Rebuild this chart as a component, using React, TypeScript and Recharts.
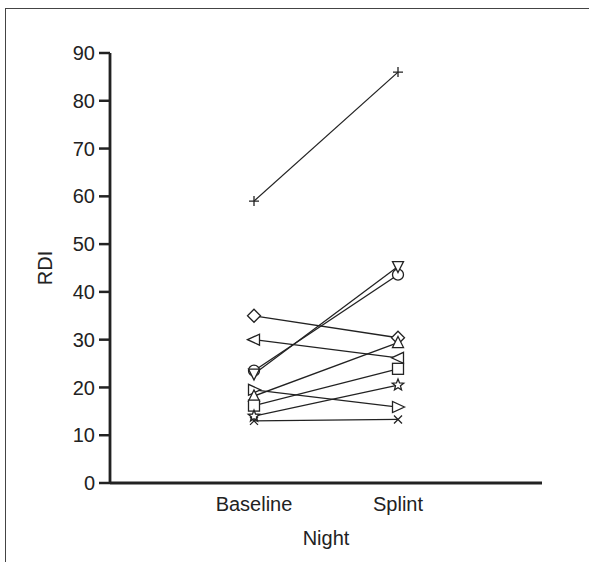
import React from "react";
import { LineChart, Line, XAxis, YAxis } from "recharts";

// nights on the x axis (numeric positions 1 and 2)
const nights = ["Baseline", "Splint"];
const yTicks = [0, 10, 20, 30, 40, 50, 60, 70, 80, 90];

// RDI per subject: [baseline, splint]
const plus = [59, 86];
const diamond = [35, 30.4];
const triLeft = [30, 26.2];
const circle = [23.5, 43.6];
const triDown = [22.8, 45.3];
const triRight = [19.5, 15.9];
const triUp = [18.2, 29.4];
const square = [16.2, 23.9];
const star = [14, 20.5];
const cross = [13, 13.3];

const subjects: [string, number[]][] = [
  ["plus", plus],
  ["diamond", diamond],
  ["triLeft", triLeft],
  ["circle", circle],
  ["triDown", triDown],
  ["triRight", triRight],
  ["triUp", triUp],
  ["square", square],
  ["star", star],
  ["cross", cross],
];

const data = nights.map((_, i) => {
  const row: Record<string, number> = { x: i + 1 };
  subjects.forEach(([k, v]) => (row[k] = v[i]));
  return row;
});

const INK = "#222";

function Marker({ shape, cx, cy }: { shape: string; cx: number; cy: number }) {
  const p = { fill: "#fff", stroke: INK, strokeWidth: 1.3 };
  const pts = (a: number[][]) => a.map(([x, y]) => `${cx + x},${cy + y}`).join(" ");
  switch (shape) {
    case "plus":
      return (
        <path d={`M${cx - 5},${cy}H${cx + 5}M${cx},${cy - 5}V${cy + 5}`} stroke={INK} strokeWidth={1.3} />
      );
    case "cross":
      return (
        <path
          d={`M${cx - 4},${cy - 4}L${cx + 4},${cy + 4}M${cx - 4},${cy + 4}L${cx + 4},${cy - 4}`}
          stroke={INK}
          strokeWidth={1.3}
        />
      );
    case "diamond":
      return <polygon points={pts([[0, -6.5], [6.5, 0], [0, 6.5], [-6.5, 0]])} {...p} />;
    case "circle":
      return <circle cx={cx} cy={cy} r={5.5} {...p} />;
    case "square":
      return <rect x={cx - 5.5} y={cy - 5.5} width={11} height={11} {...p} />;
    case "triLeft":
      return <polygon points={pts([[-6.5, 0], [5.5, -5.5], [5.5, 5.5]])} {...p} />;
    case "triRight":
      return <polygon points={pts([[6.5, 0], [-5.5, -5.5], [-5.5, 5.5]])} {...p} />;
    case "triUp":
      return <polygon points={pts([[0, -6], [5.5, 5], [-5.5, 5]])} {...p} />;
    case "triDown":
      return <polygon points={pts([[0, 6], [5.5, -5], [-5.5, -5]])} {...p} />;
    case "star": {
      const a: number[][] = [];
      for (let i = 0; i < 10; i++) {
        const r = i % 2 === 0 ? 6 : 2.6;
        const ang = -Math.PI / 2 + (i * Math.PI) / 5;
        a.push([r * Math.cos(ang), r * Math.sin(ang)]);
      }
      return <polygon points={pts(a)} {...p} />;
    }
    default:
      return null;
  }
}

const font = "Liberation Sans, Arial, Helvetica, sans-serif";
const tickStyle = { fill: INK, fontSize: 20, fontFamily: font };

export default function App() {
  return (
    <div style={{ position: "fixed", left: 0, top: 0, width: 589, height: 562, overflow: "hidden", background: "#fff" }}>
      <div
        style={{
          position: "absolute",
          left: 5,
          top: 8,
          width: 700,
          height: 700,
          borderLeft: "1.5px solid #444",
          borderTop: "1.5px solid #444",
        }}
      />
      <div style={{ position: "absolute", left: 0, top: 0 }}>
        <LineChart width={589} height={562} data={data} margin={{ top: 53, right: 47, bottom: 17, left: 0 }}>
          <XAxis
            dataKey="x"
            type="number"
            domain={[0, 3]}
            ticks={[1, 2]}
            tickFormatter={(v: number) => nights[v - 1]}
            height={62}
            tickSize={0}
            tickMargin={14}
            tickLine={false}
            axisLine={{ stroke: INK, strokeWidth: 2.8 }}
            tick={tickStyle}
            label={{ value: "Night", position: "insideBottom", offset: 0, fill: INK, fontSize: 20, fontFamily: font }}
          />
          <XAxis
            xAxisId="top"
            orientation="top"
            dataKey="x"
            type="number"
            domain={[0, 3]}
            height={0}
            tick={false}
            tickLine={false}
            axisLine={{ stroke: INK, strokeWidth: 2.8 }}
          />
          <YAxis
            domain={[0, 90]}
            ticks={yTicks}
            width={110}
            tickSize={11}
            tickMargin={4}
            tick={tickStyle}
            tickLine={{ stroke: INK, strokeWidth: 2.5 }}
            axisLine={{ stroke: INK, strokeWidth: 2.8 }}
            label={{
              value: "RDI",
              angle: -90,
              position: "insideLeft",
              offset: 45,
              fill: INK,
              fontSize: 20,
              fontFamily: font,
              style: { textAnchor: "middle" },
            }}
          />
          <YAxis
            yAxisId="right"
            orientation="right"
            domain={[0, 90]}
            width={0}
            tick={false}
            tickLine={false}
            axisLine={{ stroke: INK, strokeWidth: 2.8 }}
          />
          {subjects.map(([k]) => (
            <Line
              key={k}
              dataKey={k}
              stroke={INK}
              strokeWidth={1.3}
              isAnimationActive={false}
              dot={(props: any) => <Marker key={`${k}-${props.index}`} shape={k} cx={props.cx} cy={props.cy} />}
              activeDot={false}
            />
          ))}
        </LineChart>
      </div>
    </div>
  );
}
